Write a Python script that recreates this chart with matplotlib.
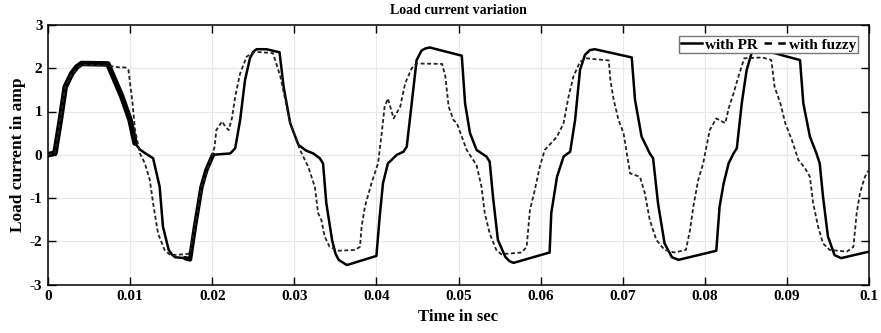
import numpy as np
import matplotlib
matplotlib.use("Agg")
import matplotlib.pyplot as plt

plt.rcParams["axes.unicode_minus"] = False

# ---- data ----
pr_t = [0, 0.00085, 0.0015, 0.0021, 0.0029, 0.0035, 0.0041, 0.0073, 0.0090, 0.0100, 0.0106,
        0.0112, 0.0118, 0.0128, 0.0136, 0.0140, 0.0147, 0.0151, 0.0155, 0.0167, 0.0173, 0.0179, 0.0187,
        0.0193, 0.0201, 0.0222, 0.0228, 0.0234, 0.0240, 0.0246, 0.0250, 0.0254, 0.0266, 0.0282,
        0.0287, 0.0295, 0.0305, 0.0314, 0.0323, 0.0331, 0.0335, 0.0339, 0.0346, 0.0350, 0.0354, 0.0364,
        0.0400, 0.0404, 0.0408, 0.0414, 0.0425, 0.0433, 0.0437, 0.0443, 0.0449, 0.0455, 0.0460,
        0.0465, 0.0504, 0.0508, 0.0514, 0.0522, 0.0534, 0.0538, 0.0542, 0.0548, 0.0557, 0.0562,
        0.0567, 0.0611, 0.0613, 0.0620, 0.0628, 0.0636, 0.0642, 0.0648, 0.0654, 0.0660,
        0.0666, 0.0711, 0.0715, 0.0723, 0.0733, 0.0737, 0.0743, 0.0751, 0.0760, 0.0768,
        0.0814, 0.0818, 0.0823, 0.0829, 0.0835, 0.0839, 0.0845, 0.0851, 0.0857, 0.0866,
        0.0900, 0.0916, 0.0920, 0.0928, 0.0936, 0.0940, 0.0944, 0.0950, 0.0958, 0.0966,
        0.1000]
pr_i = [0.00, 0.04, 0.80, 1.57, 1.88, 2.03, 2.11, 2.10, 1.34, 0.80, 0.27,
        0.12, 0.04, -0.08, -0.74, -1.66, -2.20, -2.31, -2.37, -2.39, -2.42, -1.66, -0.74,
        -0.35, 0.00, 0.03, 0.15, 0.80, 1.73, 2.23, 2.38, 2.44, 2.44, 2.37,
        1.57, 0.73, 0.23, 0.10, 0.03, -0.08, -0.20, -1.12, -1.97, -2.28, -2.43, -2.55,
        -2.34, -1.43, -0.66, -0.20, 0.00, 0.07, 0.19, 1.19, 2.19, 2.41, 2.46,
        2.48, 2.29, 1.19, 0.50, 0.11, -0.04, -0.16, -0.97, -1.97, -2.36, -2.46,
        -2.50, -2.26, -1.35, -0.51, -0.04, 0.07, 0.80, 1.96, 2.31, 2.42,
        2.44, 2.25, 1.27, 0.42, 0.03, -0.08, -1.12, -2.05, -2.37, -2.43,
        -2.22, -1.20, -0.66, -0.20, 0.03, 0.15, 1.19, 1.96, 2.35, 2.45,
        2.27, 2.19, 1.19, 0.42, 0.03, -0.20, -0.97, -1.89, -2.32, -2.39,
        -2.24]

fz_t = [0, 0.00085, 0.0015, 0.0021, 0.0029, 0.0041, 0.0073, 0.0087, 0.0094, 0.0098,
        0.0103, 0.0106, 0.0112, 0.0118, 0.0124, 0.0128, 0.0134, 0.0142, 0.0149, 0.0167,
        0.0173, 0.0179, 0.0187, 0.0197, 0.0203, 0.0205, 0.0212, 0.0216, 0.0220, 0.0224,
        0.0228, 0.0234, 0.0242, 0.0252, 0.0274, 0.0283, 0.0295, 0.0307, 0.0317, 0.0325,
        0.0329, 0.0333, 0.0337, 0.0343, 0.0354, 0.0374, 0.0380, 0.0382, 0.0386, 0.0394,
        0.0402, 0.0406, 0.0410, 0.0414, 0.0421, 0.0429, 0.0435, 0.0443, 0.0449, 0.0480,
        0.0484, 0.0488, 0.0494, 0.0498, 0.0510, 0.0522, 0.0528, 0.0532, 0.0538, 0.0546,
        0.0552, 0.0577, 0.0583, 0.0587, 0.0593, 0.0599, 0.0605, 0.0611, 0.0620, 0.0628,
        0.0634, 0.0640, 0.0648, 0.0656, 0.0683, 0.0685, 0.0689, 0.0695, 0.0701, 0.0705,
        0.0709, 0.0715, 0.0721, 0.0727, 0.0733, 0.0741, 0.0751, 0.0763, 0.0777, 0.0782,
        0.0786, 0.0792, 0.0798, 0.0802, 0.0806, 0.0814, 0.0820, 0.0825, 0.0829, 0.0835,
        0.0841, 0.0848, 0.0870, 0.0881, 0.0885, 0.0892, 0.0898, 0.0906, 0.0914, 0.0922,
        0.0928, 0.0932, 0.0938, 0.0944, 0.0952, 0.0973, 0.0981, 0.0985, 0.0989, 0.0995,
        0.1000]
fz_i = [0.00, 0.04, 0.80, 1.57, 1.88, 2.08, 2.06, 2.02, 2.02, 1.96,
        1.19, 0.57, 0.03, -0.20, -0.58, -1.12, -1.82, -2.20, -2.32, -2.30,
        -2.28, -1.66, -0.74, -0.20, 0.19, 0.57, 0.77, 0.65, 0.57, 0.84,
        1.34, 1.88, 2.27, 2.38, 2.35, 1.81, 0.73, 0.11, -0.28, -0.74,
        -1.35, -1.51, -1.89, -2.13, -2.22, -2.20, -2.13, -1.66, -1.20, -0.66,
        -0.20, 0.42, 1.11, 1.30, 0.84, 1.11, 1.65, 2.00, 2.11, 2.10,
        1.81, 1.11, 0.80, 0.73, 0.11, -0.24, -0.74, -1.35, -1.82, -2.20,
        -2.30, -2.26, -2.13, -1.28, -0.81, -0.28, 0.11, 0.23, 0.42, 0.73,
        1.34, 1.81, 2.15, 2.23, 2.18, 1.73, 1.27, 0.80, 0.50, 0.03,
        -0.43, -0.47, -0.51, -0.89, -1.51, -1.97, -2.20, -2.26, -2.20, -1.74,
        -1.20, -0.58, -0.20, 0.19, 0.57, 0.84, 0.78, 0.73, 1.07, 1.42,
        1.81, 2.23, 2.25, 2.19, 1.57, 1.19, 0.73, 0.34, -0.12, -0.31,
        -0.51, -1.12, -1.66, -2.05, -2.20, -2.24, -2.13, -1.35, -0.89, -0.51,
        -0.35]

x_ticks = [0, 0.01, 0.02, 0.03, 0.04, 0.05, 0.06, 0.07, 0.08, 0.09, 0.1]
x_tick_labels = ["0", "0.01", "0.02", "0.03", "0.04", "0.05", "0.06", "0.07", "0.08", "0.09", "0.1"]
y_ticks = [-3, -2, -1, 0, 1, 2, 3]

# ---- figure ----
serif = ["Liberation Serif", "DejaVu Serif"]
fig = plt.figure(figsize=(8.81, 3.33), dpi=100)
ax = fig.add_axes([48/881, 1-284.5/333, 821/881, 259.5/333])

pr_t_a = np.array(pr_t)
pr_i_a = np.array(pr_i)
ax.plot(pr_t_a, pr_i_a, color="black", lw=1.8, solid_joinstyle="round", label="with PR", zorder=3)
ax.plot(fz_t, fz_i, color="#222222", lw=1.3, linestyle=(0, (2.2, 1.4)), label="with fuzzy", zorder=4)

# thick noisy band at start-up (first cycle)
m = (pr_t_a <= 0.0106)
ax.plot(pr_t_a[m], pr_i_a[m], color="black", lw=4.0, solid_capstyle="round", zorder=3)
m2 = (pr_t_a >= 0.0167) & (pr_t_a <= 0.0201)
ax.plot(pr_t_a[m2], pr_i_a[m2], color="black", lw=3.2, solid_capstyle="round", zorder=3)

ax.set_xlim(0, 0.1)
ax.set_ylim(-3, 3)
ax.set_xticks(x_ticks)
ax.set_xticklabels(x_tick_labels)
ax.set_yticks(y_ticks)
ax.grid(True, color="#e8e8e8", lw=0.8)
ax.tick_params(direction="in", length=6, width=1, top=True, right=True, pad=4)
for lab in ax.get_xticklabels() + ax.get_yticklabels():
    lab.set_family(serif)
    lab.set_fontweight("bold")
    lab.set_fontsize(11)
for s in ax.spines.values():
    s.set_linewidth(1.1)

ax.set_xlabel("Time in sec", family=serif, fontweight="bold", fontsize=12, labelpad=4)
ax.set_ylabel("Load current in amp", family=serif, fontweight="bold", fontsize=12.5, labelpad=3)
ax.set_title("Load current variation", family=serif, fontweight="bold", fontsize=10, pad=8)

h1 = plt.Line2D([], [], color="black", lw=1.8)
h2 = plt.Line2D([], [], color="black", lw=1.8, linestyle=(0, (3.0, 2.5)))
leg = ax.legend([h1, h2], ["with PR", "with fuzzy"], loc="upper right",
                bbox_to_anchor=((858-48)/821, (284.5-36)/259.5), borderaxespad=0,
                ncol=2, prop={"family": serif, "weight": "bold", "size": 11},
                frameon=True, fancybox=False, framealpha=1, edgecolor="#777777",
                handlelength=1.4, handletextpad=0.2, columnspacing=0.4,
                borderpad=0.12)
leg.get_frame().set_linewidth(1.0)
leg.set_zorder(10)

fig.savefig("out.png", dpi=100)
